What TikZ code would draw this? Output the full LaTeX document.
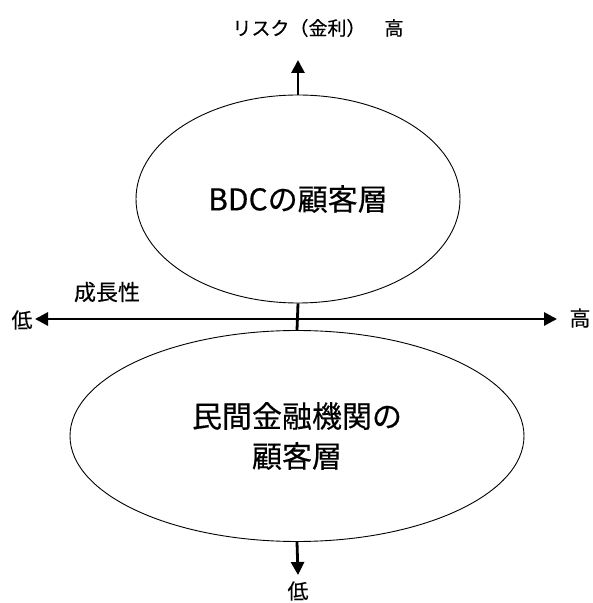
\documentclass[tikz,border=0pt]{standalone}
\usepackage{fontspec}
\setmainfont{Noto Sans CJK JP}[FakeBold=0.4]
\newfontfamily\jpfont{Noto Sans CJK JP}[FakeBold=0.4]
\usetikzlibrary{shapes.geometric,arrows.meta}
\begin{document}
\begin{tikzpicture}[x=1pt,y=1pt,
  oval/.style={draw,ellipse,line width=0.9pt,inner sep=0pt,font=\jpfont\fontsize{30}{40}\selectfont,align=center},
  axis/.style={line width=2.8pt},
  tipp/.style={-{Triangle[length=13pt,width=13pt]}},
  lbl/.style={font=\jpfont\fontsize{21}{22}\selectfont,inner sep=0pt}]
\useasboundingbox (0,0) rectangle (593,603);
\node[oval,minimum width=324pt,minimum height=208pt] (bdc) at (298,404) {BDCの顧客層};
\node[oval,minimum width=454pt,minimum height=211pt] (bank) at (297,167) {民間金融機関の\\顧客層};
\coordinate (upTip) at (298,543);
\coordinate (downTip) at (298,28);
\node[lbl,font=\jpfont\fontsize{19}{20}\selectfont] (risk) at (318,575) {リスク（金利）　高};
\node[lbl] (lowB) at (298,12) {低};
\node[lbl] (lowL) at (22,283) {低};
\node[lbl] (highR) at (580,285) {高};
\node[lbl,font=\jpfont\fontsize{22}{24}\selectfont] (growth) at (107,311) {成長性};
\coordinate (hL) at (35,284);
\coordinate (hR) at (557,284);
\draw[axis,tipp] (bdc.north) -- (upTip);
\draw[axis,tipp] (bank.south) -- (downTip);
\draw[axis] (bdc.south) -- (bank.north);
\draw[axis,{Triangle[length=13pt,width=13pt]}-{Triangle[length=13pt,width=13pt]}] (hL) -- (hR);
\end{tikzpicture}
\end{document}
